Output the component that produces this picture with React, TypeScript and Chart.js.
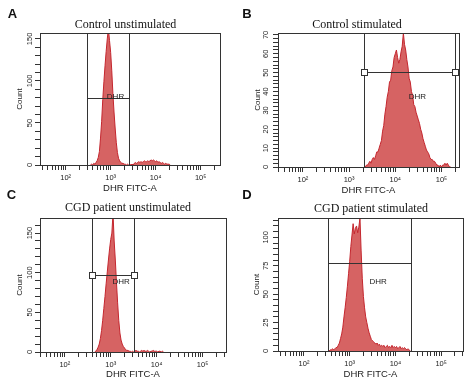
import React, { useEffect, useRef } from 'react';
import { Chart, registerables } from 'chart.js';

Chart.register(...registerables);

// ---------- data ----------
const BIN_STEP = 0.025; // histogram bin width, in decades
const X_TICK_LABELS: Record<number, string> = { 2: '10²', 3: '10³', 4: '10⁴', 5: '10⁵' };
const X_AXIS_TITLE = 'DHR FITC-A';
const Y_AXIS_TITLE = 'Count';
const GATE_NAME = 'DHR';

// A: Control unstimulated
const titleA = 'Control unstimulated';
const startA = 2.55; // log10 of first bin
const countsA = [
  0, 1, 0, 2, 1, 3, 5, 9, 16, 32,
  52, 78, 99, 118, 135, 150, 162, 148, 134, 112,
  85, 63, 44, 27, 15, 8, 5, 3, 2, 2,
  1, 1, 0, 1, 0, 1, 0, 1, 0, 2,
  3, 2, 3, 4, 3, 4, 3, 4, 5, 4,
  4, 5, 4, 5, 6, 5, 6, 5, 4, 5,
  3, 4, 3, 2, 3, 2, 1, 2, 1, 1,
  1, 0,
];
const gateA = [2.49, 3.41, 79]; // low log10, high log10, count level
const gateLabelA = [3.108, 81.5];

// B: Control stimulated
const titleB = 'Control stimulated';
const startB = 3.35;
const countsB = [
  0, 1, 1, 2, 3, 2, 4, 5, 4, 6,
  8, 8, 10, 12, 14, 19, 22, 28, 32, 37,
  40, 45, 46, 51, 53, 58, 60, 62, 58, 55,
  57, 61, 64, 71, 65, 62, 57, 53, 47, 45,
  40, 38, 33, 32, 29, 27, 25, 23, 20, 18,
  15, 13, 11, 9, 8, 7, 5, 4, 4, 3,
  3, 2, 1, 1, 0, 1, 0, 1, 1, 2,
  1, 2, 1, 0, 0,
];
const gateB = [3.338, 5.315, 50];
const gateLabelB = [4.48, 37];

// C: CGD patient unstimulated
const titleC = 'CGD patient unstimulated';
const startC = 2.65;
const countsC = [
  0, 1, 3, 6, 10, 17, 27, 40, 55, 70,
  86, 101, 116, 130, 142, 150, 175, 140, 116, 88,
  62, 40, 24, 15, 10, 7, 5, 3, 2, 2,
  1, 1, 0, 1, 0, 1, 2, 1, 1, 0,
  1, 2, 1, 2, 1, 1, 2, 1, 0, 1,
  1, 2, 1, 1, 1, 0, 1, 1, 0, 1, 0,
];
const gateC = [2.608, 3.514, 96];
const gateLabelC = [3.225, 88];

// D: CGD patient stimulated
const titleD = 'CGD patient stimulated';
const startD = 2.55;
const countsD = [
  0, 1, 1, 2, 1, 2, 3, 3, 5, 7,
  11, 15, 21, 30, 38, 47, 57, 68, 79, 92,
  102, 112, 103, 108, 110, 104, 109, 117, 88, 64,
  48, 38, 30, 25, 20, 16, 13, 10, 9, 8,
  7, 6, 7, 5, 6, 4, 5, 4, 5, 3,
  4, 5, 3, 4, 3, 5, 3, 4, 3, 4,
  2, 3, 4, 2, 3, 2, 3, 2, 1, 2,
  1, 0,
];
const gateD = [2.541, 4.349, 77];
const gateLabelD = [3.62, 60.5];

// ---------- layout / style ----------
const SANS = "'Liberation Sans', Arial, sans-serif";
const SERIF = "'Liberation Serif', 'Times New Roman', serif";
const AXIS_COLOR = '#333';
const TEXT_COLOR = '#222';

type Panel = {
  letter: string; title: string; start: number; counts: number[];
  gate: number[]; gateLabel: number[]; markers: boolean;
  left: number; top: number; w: number; h: number;
  area: { l: number; r: number; t: number; b: number };
  xMinE: number; xMaxE: number; yMax: number; yStep: number; yLabelEvery: number;
  yTickPad: number; countPad: number; xTitlePad: number;
  titleX: number; titleY: number; letterX: number; letterY: number;
};

const panels: Panel[] = [
  {
    letter: 'A', title: titleA, start: startA, counts: countsA, gate: gateA, gateLabel: gateLabelA, markers: false,
    left: 0, top: 0, w: 237, h: 200, area: { l: 40, r: 220, t: 33, b: 165 },
    xMinE: 1.43, xMaxE: 5.43, yMax: 157, yStep: 10, yLabelEvery: 50,
    yTickPad: -1.25, countPad: 15, xTitlePad: 6.3,
    titleX: 125.5, titleY: 25, letterX: 12.5, letterY: 14.5,
  },
  {
    letter: 'B', title: titleB, start: startB, counts: countsB, gate: gateB, gateLabel: gateLabelB, markers: true,
    left: 237, top: 0, w: 237, h: 200, area: { l: 41, r: 222, t: 33, b: 167 },
    xMinE: 1.46, xMaxE: 5.38, yMax: 71, yStep: 2, yLabelEvery: 10,
    yTickPad: 3, countPad: 16.3, xTitlePad: 4.3,
    titleX: 120, titleY: 25, letterX: 10, letterY: 14.5,
  },
  {
    letter: 'C', title: titleC, start: startC, counts: countsC, gate: gateC, gateLabel: gateLabelC, markers: true,
    left: 0, top: 184, w: 237, h: 204, area: { l: 40, r: 226, t: 34, b: 168 },
    xMinE: 1.46, xMaxE: 5.51, yMax: 169, yStep: 10, yLabelEvery: 50,
    yTickPad: -1, countPad: 15, xTitlePad: 8.3,
    titleX: 128, titleY: 24, letterX: 11.5, letterY: 11,
  },
  {
    letter: 'D', title: titleD, start: startD, counts: countsD, gate: gateD, gateLabel: gateLabelD, markers: false,
    left: 237, top: 184, w: 237, h: 204, area: { l: 41, r: 226, t: 34, b: 167 },
    xMinE: 1.432, xMaxE: 5.478, yMax: 117, yStep: 5, yLabelEvery: 25,
    yTickPad: 0.5, countPad: 15.3, xTitlePad: 7.8,
    titleX: 134, titleY: 25, letterX: 10, letterY: 11,
  },
];

function logTickValues(minE: number, maxE: number): number[] {
  const out: number[] = [];
  for (let n = 1; n <= 5; n++) {
    for (let k = 1; k <= 9; k++) {
      const v = k * Math.pow(10, n);
      const e = Math.log10(v);
      if (e >= minE && e <= maxE) out.push(v);
    }
  }
  return out;
}

const crisp = (v: number) => Math.round(v - 0.5) + 0.5;

function HistPanel({ p }: { p: Panel }) {
  const ref = useRef<HTMLCanvasElement>(null);
  useEffect(() => {
    const canvas = ref.current;
    if (!canvas) return;
    const points = p.counts.map((c, i) => ({ x: Math.pow(10, p.start + i * BIN_STEP), y: c }));

    const decor = {
      id: 'decor',
      afterDatasetsDraw(chart: any) {
        const { ctx, chartArea: a, scales } = chart;
        const xs = scales.x;
        const ys = scales.y;
        ctx.save();
        ctx.strokeStyle = AXIS_COLOR;
        ctx.lineWidth = 1;
        const L = crisp(a.left), R = crisp(a.right), T = crisp(a.top), B = crisp(a.bottom);
        ctx.strokeRect(L, T, R - L, B - T);

        const gx1 = crisp(xs.getPixelForValue(Math.pow(10, p.gate[0])));
        const gx2 = crisp(xs.getPixelForValue(Math.pow(10, p.gate[1])));
        const gy = crisp(ys.getPixelForValue(p.gate[2]));
        ctx.beginPath();
        ctx.moveTo(gx1, T); ctx.lineTo(gx1, B);
        ctx.moveTo(gx2, T); ctx.lineTo(gx2, B);
        ctx.moveTo(gx1, gy); ctx.lineTo(gx2, gy);
        ctx.stroke();
        if (p.markers) {
          for (const gx of [gx1, gx2]) {
            ctx.fillStyle = '#fff';
            ctx.fillRect(gx - 3, gy - 3, 6, 6);
            ctx.strokeRect(gx - 3, gy - 3, 6, 6);
          }
        }
        ctx.fillStyle = TEXT_COLOR;
        ctx.textAlign = 'center';
        ctx.textBaseline = 'middle';
        ctx.font = `8px ${SANS}`;
        ctx.fillText(
          GATE_NAME,
          xs.getPixelForValue(Math.pow(10, p.gateLabel[0])),
          ys.getPixelForValue(p.gateLabel[1])
        );
        ctx.fillStyle = '#111';
        ctx.font = `12px ${SERIF}`;
        ctx.fillText(p.title, p.titleX, p.titleY);
        ctx.font = `bold 13px ${SANS}`;
        ctx.fillText(p.letter, p.letterX, p.letterY);
        ctx.restore();
      },
    };

    const chart = new Chart(canvas, {
      type: 'line',
      data: {
        datasets: [
          {
            data: points,
            fill: 'origin',
            borderColor: '#c4262e',
            backgroundColor: '#d66363',
            borderWidth: 1,
            pointRadius: 0,
            tension: 0,
          },
        ],
      },
      options: {
        responsive: false,
        animation: false,
        events: [],
        layout: { padding: { left: 0, top: p.area.t, right: p.w - p.area.r, bottom: 0 } },
        plugins: {
          legend: { display: false },
          tooltip: { enabled: false },
          title: { display: false },
        },
        scales: {
          x: {
            type: 'logarithmic',
            min: Math.pow(10, p.xMinE),
            max: Math.pow(10, p.xMaxE),
            afterBuildTicks: (s: any) => {
              s.ticks = logTickValues(p.xMinE, p.xMaxE).map((v) => ({ value: v }));
            },
            afterFit: (s: any) => {
              s.height = p.h - p.area.b;
            },
            grid: { drawOnChartArea: false, drawTicks: true, tickLength: 5, color: AXIS_COLOR },
            border: { display: false },
            ticks: {
              autoSkip: false,
              minRotation: 0,
              maxRotation: 0,
              padding: 3,
              color: TEXT_COLOR,
              font: { size: 7.5, family: SANS },
              callback: (v: any) => {
                const e = Math.log10(Number(v));
                const r = Math.round(e);
                return Math.abs(e - r) < 1e-9 ? X_TICK_LABELS[r] ?? '' : '';
              },
            },
            title: {
              display: true,
              text: X_AXIS_TITLE,
              color: TEXT_COLOR,
              font: { size: 9.5, family: SANS },
              padding: { top: 0, bottom: p.xTitlePad },
            },
          },
          y: {
            type: 'linear',
            min: 0,
            max: p.yMax,
            afterFit: (s: any) => {
              s.width = p.area.l;
            },
            grid: { drawOnChartArea: false, drawTicks: true, tickLength: 5, color: AXIS_COLOR },
            border: { display: false },
            ticks: {
              stepSize: p.yStep,
              autoSkip: false,
              includeBounds: false,
              minRotation: 90,
              maxRotation: 90,
              crossAlign: 'center',
              padding: p.yTickPad,
              color: TEXT_COLOR,
              font: { size: 7.5, family: SANS },
              callback: (v: any) => (Number(v) % p.yLabelEvery === 0 ? String(v) : ''),
            },
            title: {
              display: true,
              text: Y_AXIS_TITLE,
              color: TEXT_COLOR,
              font: { size: 8, family: SANS },
              padding: { top: p.countPad, bottom: 0 },
            },
          },
        },
      } as any,
      plugins: [decor],
    });
    return () => chart.destroy();
  }, [p]);

  return (
    <canvas
      ref={ref}
      width={p.w}
      height={p.h}
      style={{ position: 'absolute', left: p.left, top: p.top, width: p.w, height: p.h }}
    />
  );
}

export default function App() {
  return (
    <div
      style={{
        position: 'fixed',
        left: 0,
        top: 0,
        width: 474,
        height: 388,
        background: '#fff',
        overflow: 'hidden',
      }}
    >
      {panels.map((p) => (
        <HistPanel key={p.letter} p={p} />
      ))}
    </div>
  );
}
